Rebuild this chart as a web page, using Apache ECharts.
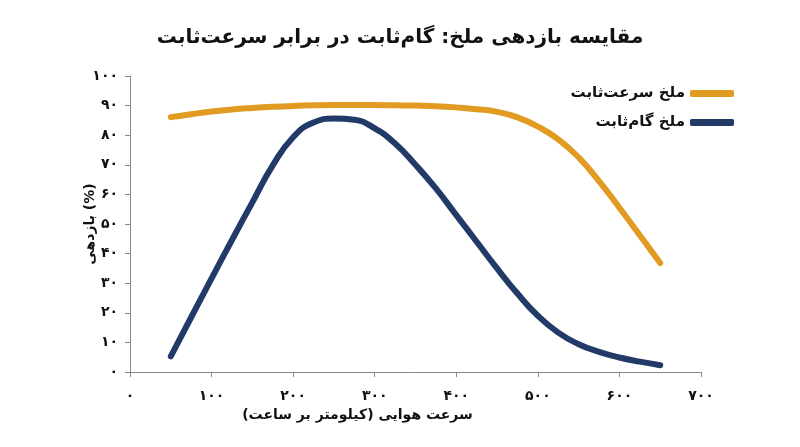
<!DOCTYPE html>
<html><head><meta charset="utf-8">
<script src="https://cdn.jsdelivr.net/npm/echarts@6/dist/echarts.min.js"></script>
<style>html,body{margin:0;padding:0;background:#fff}#c{width:800px;height:447px}</style>
</head><body><div id="c"></div>
<script>
var speeds = [50, 75, 100, 125, 150, 175, 200, 225, 250, 275, 300, 325, 350, 375, 400, 425, 450, 475, 500, 525, 550, 575, 600, 625, 650];
var constantSpeed = [86.1, 87.1, 88.0, 88.7, 89.2, 89.6, 89.9, 90.1, 90.2, 90.2, 90.2, 90.1, 90.0, 89.8, 89.4, 88.8, 87.9, 86.0, 82.9, 78.6, 72.5, 64.5, 55.5, 46.2, 36.8];
var fixedPitch = [5.3, 18.5, 31.6, 44.6, 57.3, 69.8, 79.3, 84.3, 85.6, 85.2, 82.3, 77.2, 70.0, 62.0, 53.0, 44.0, 35.0, 26.5, 19.0, 13.3, 9.4, 6.8, 4.9, 3.5, 2.3];
var seriesNames = ['ملخ سرعت‌ثابت', 'ملخ گام‌ثابت'];
var titleText = 'مقایسه بازدهی ملخ: گام‌ثابت در برابر سرعت‌ثابت';
var xName = 'سرعت هوایی (کیلومتر بر ساعت)';
var yName = 'بازدهی (%)';
var faDigits = ['۰','۱','۲','۳','۴','۵','۶','۷','۸','۹'];
function fa(v){ return String(v).replace(/[0-9]/g, function(d){ return faDigits[+d]; }); }

var font = 'DejaVu Sans';
var chart = echarts.init(document.getElementById('c'));
chart.setOption({
  backgroundColor: '#fff',
  animation: false,
  textStyle: { fontFamily: font },
  title: {
    text: titleText, left: 'center', top: 23,
    textStyle: { fontFamily: font, fontSize: 20, fontWeight: 'bold', color: '#111' }
  },
  legend: {
    orient: 'vertical', right: 61, top: 81, align: 'right',
    itemWidth: 44, itemHeight: 7, itemGap: 14,
    icon: 'roundRect',
    textStyle: { fontFamily: font, fontSize: 15, fontWeight: 'bold', color: '#111' },
    data: seriesNames
  },
  grid: { left: 130, right: 99, top: 76, bottom: 75 },
  xAxis: {
    type: 'value', min: 0, max: 700, interval: 100,
    name: xName, nameLocation: 'middle', nameGap: 36, nameMoveOverlap: false,
    nameTextStyle: { fontFamily: font, fontSize: 14, fontWeight: 'bold', color: '#111', padding: [0, 116, 0, 0] },
    axisLine: { show: true, lineStyle: { color: '#888', width: 1 } },
    axisTick: { show: true, length: 5, lineStyle: { color: '#888' } },
    splitLine: { show: false },
    axisLabel: { margin: 17, fontFamily: font, fontSize: 14, fontWeight: 'bold', color: '#111', formatter: function(v){ return fa(v); } }
  },
  yAxis: {
    type: 'value', min: 0, max: 100, interval: 10,
    name: yName, nameLocation: 'middle', nameGap: 33, nameRotate: 90, nameMoveOverlap: false,
    nameTextStyle: { fontFamily: font, fontSize: 14, fontWeight: 'bold', color: '#111' },
    axisLine: { show: true, lineStyle: { color: '#888', width: 1 } },
    axisTick: { show: true, length: 5, lineStyle: { color: '#888' } },
    splitLine: { show: false },
    axisLabel: { margin: 12, fontFamily: font, fontSize: 14, fontWeight: 'bold', color: '#111', formatter: function(v){ return fa(v); } }
  },
  series: [
    {
      name: seriesNames[0], type: 'line', smooth: 0.5, showSymbol: false, symbol: 'none',
      data: speeds.map(function(s, i){ return [s, constantSpeed[i]]; }),
      lineStyle: { color: '#E29B22', width: 6, cap: 'round', join: 'round' },
      itemStyle: { color: '#E29B22' }
    },
    {
      name: seriesNames[1], type: 'line', smooth: 0.5, showSymbol: false, symbol: 'none',
      data: speeds.map(function(s, i){ return [s, fixedPitch[i]]; }),
      lineStyle: { color: '#213A68', width: 6, cap: 'round', join: 'round' },
      itemStyle: { color: '#213A68' }
    }
  ]
});
</script></body></html>
